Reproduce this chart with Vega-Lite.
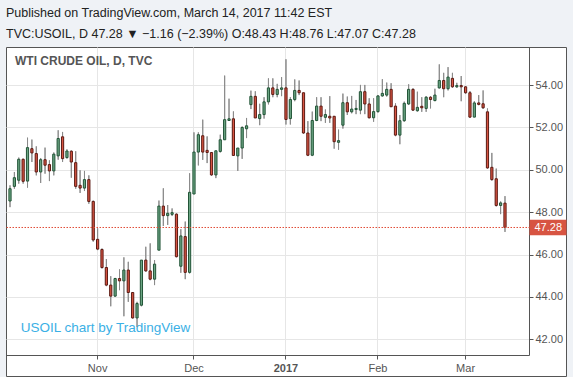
{
  "$schema": "https://vega.github.io/schema/vega-lite/v6.json",
  "width": 560,
  "height": 329,
  "autosize": {"type": "none"},
  "padding": {"left": 6, "top": 47, "right": 7, "bottom": 1},
  "background": "#eff2f6",
  "title": {
    "text": "Published on TradingView.com, March 14, 2017 11:42 EST",
    "subtitle": "TVC:USOIL, D  47.28 ▼ −1.16 (−2.39%)  O:48.43  H:48.76  L:47.07  C:47.28",
    "anchor": "start",
    "frame": "group",
    "offset": 6.5,
    "font": "Liberation Sans",
    "fontSize": 12.5,
    "fontWeight": "normal",
    "color": "#222222",
    "subtitleFont": "Liberation Sans",
    "subtitleFontSize": 12.5,
    "subtitleColor": "#222222",
    "subtitlePadding": 8.5
  },
  "config": {
    "font": "Liberation Sans",
    "view": {"fill": "#ffffff", "stroke": "#555555", "strokeWidth": 1}
  },
  "data": {
    "values": [
      {"date": "2016-10-04", "o": 48.53, "h": 49.27, "l": 48.24, "c": 49.11},
      {"date": "2016-10-05", "o": 49.22, "h": 49.90, "l": 49.11, "c": 49.63},
      {"date": "2016-10-06", "o": 49.51, "h": 50.58, "l": 49.35, "c": 50.50},
      {"date": "2016-10-07", "o": 50.50, "h": 50.53, "l": 49.35, "c": 49.46},
      {"date": "2016-10-10", "o": 49.47, "h": 51.52, "l": 49.16, "c": 51.05},
      {"date": "2016-10-11", "o": 51.00, "h": 51.43, "l": 50.37, "c": 50.80},
      {"date": "2016-10-12", "o": 50.77, "h": 51.11, "l": 49.74, "c": 49.90},
      {"date": "2016-10-13", "o": 49.90, "h": 50.56, "l": 49.38, "c": 50.48},
      {"date": "2016-10-14", "o": 50.48, "h": 51.05, "l": 49.82, "c": 50.22},
      {"date": "2016-10-17", "o": 50.25, "h": 50.45, "l": 49.47, "c": 49.95},
      {"date": "2016-10-18", "o": 49.95, "h": 50.82, "l": 49.74, "c": 50.74},
      {"date": "2016-10-19", "o": 50.66, "h": 51.87, "l": 50.48, "c": 51.48},
      {"date": "2016-10-20", "o": 51.56, "h": 51.79, "l": 50.37, "c": 50.53},
      {"date": "2016-10-21", "o": 50.58, "h": 50.97, "l": 50.53, "c": 50.89},
      {"date": "2016-10-24", "o": 50.88, "h": 50.92, "l": 49.63, "c": 50.37},
      {"date": "2016-10-25", "o": 50.34, "h": 50.88, "l": 49.11, "c": 49.22},
      {"date": "2016-10-26", "o": 49.27, "h": 49.98, "l": 48.91, "c": 49.14},
      {"date": "2016-10-27", "o": 49.14, "h": 49.95, "l": 49.00, "c": 49.54},
      {"date": "2016-10-28", "o": 49.54, "h": 49.74, "l": 48.40, "c": 48.51},
      {"date": "2016-10-31", "o": 48.51, "h": 48.55, "l": 46.61, "c": 46.69},
      {"date": "2016-11-01", "o": 46.72, "h": 47.24, "l": 46.21, "c": 46.26},
      {"date": "2016-11-02", "o": 46.24, "h": 46.29, "l": 45.34, "c": 45.39},
      {"date": "2016-11-03", "o": 45.39, "h": 45.79, "l": 44.51, "c": 44.56},
      {"date": "2016-11-04", "o": 44.56, "h": 44.98, "l": 43.56, "c": 44.04},
      {"date": "2016-11-07", "o": 44.04, "h": 44.90, "l": 44.01, "c": 44.87},
      {"date": "2016-11-08", "o": 44.87, "h": 45.30, "l": 44.32, "c": 44.76},
      {"date": "2016-11-09", "o": 44.76, "h": 45.87, "l": 43.09, "c": 45.27},
      {"date": "2016-11-10", "o": 45.27, "h": 45.66, "l": 43.77, "c": 44.21},
      {"date": "2016-11-11", "o": 44.21, "h": 44.21, "l": 42.98, "c": 43.01},
      {"date": "2016-11-14", "o": 43.01, "h": 43.77, "l": 42.58, "c": 43.69},
      {"date": "2016-11-15", "o": 43.61, "h": 45.74, "l": 43.56, "c": 45.74},
      {"date": "2016-11-16", "o": 45.74, "h": 46.37, "l": 45.19, "c": 45.23},
      {"date": "2016-11-17", "o": 45.23, "h": 46.53, "l": 44.79, "c": 44.84},
      {"date": "2016-11-18", "o": 44.84, "h": 45.74, "l": 44.56, "c": 45.55},
      {"date": "2016-11-21", "o": 46.21, "h": 48.55, "l": 46.21, "c": 48.29},
      {"date": "2016-11-22", "o": 48.29, "h": 49.13, "l": 47.35, "c": 47.84},
      {"date": "2016-11-23", "o": 47.84, "h": 48.34, "l": 47.40, "c": 47.95},
      {"date": "2016-11-24", "o": 47.90, "h": 48.18, "l": 47.82, "c": 47.98},
      {"date": "2016-11-25", "o": 47.91, "h": 47.94, "l": 45.87, "c": 45.90},
      {"date": "2016-11-28", "o": 45.45, "h": 47.20, "l": 45.14, "c": 46.88},
      {"date": "2016-11-29", "o": 46.85, "h": 47.56, "l": 44.84, "c": 45.16},
      {"date": "2016-11-30", "o": 45.16, "h": 49.84, "l": 45.11, "c": 48.94},
      {"date": "2016-12-01", "o": 48.86, "h": 51.77, "l": 48.86, "c": 50.84},
      {"date": "2016-12-02", "o": 50.84, "h": 51.77, "l": 50.21, "c": 51.66},
      {"date": "2016-12-05", "o": 51.61, "h": 52.37, "l": 50.47, "c": 50.84},
      {"date": "2016-12-06", "o": 50.92, "h": 51.58, "l": 50.32, "c": 50.82},
      {"date": "2016-12-07", "o": 50.82, "h": 50.82, "l": 49.72, "c": 49.76},
      {"date": "2016-12-08", "o": 49.76, "h": 50.90, "l": 49.61, "c": 50.90},
      {"date": "2016-12-09", "o": 50.87, "h": 51.66, "l": 50.82, "c": 51.42},
      {"date": "2016-12-12", "o": 51.42, "h": 54.45, "l": 51.42, "c": 52.37},
      {"date": "2016-12-13", "o": 52.33, "h": 53.36, "l": 52.33, "c": 52.41},
      {"date": "2016-12-14", "o": 52.41, "h": 52.76, "l": 50.68, "c": 50.68},
      {"date": "2016-12-15", "o": 50.66, "h": 51.03, "l": 49.95, "c": 51.03},
      {"date": "2016-12-16", "o": 51.03, "h": 52.05, "l": 50.52, "c": 52.00},
      {"date": "2016-12-19", "o": 51.94, "h": 52.45, "l": 51.50, "c": 52.08},
      {"date": "2016-12-20", "o": 53.08, "h": 53.74, "l": 52.87, "c": 53.47},
      {"date": "2016-12-21", "o": 53.47, "h": 53.71, "l": 52.45, "c": 52.45},
      {"date": "2016-12-22", "o": 52.42, "h": 53.12, "l": 52.11, "c": 52.61},
      {"date": "2016-12-23", "o": 52.61, "h": 53.43, "l": 52.42, "c": 53.21},
      {"date": "2016-12-27", "o": 53.21, "h": 54.32, "l": 53.09, "c": 53.87},
      {"date": "2016-12-28", "o": 53.87, "h": 54.32, "l": 53.43, "c": 53.56},
      {"date": "2016-12-29", "o": 53.56, "h": 54.06, "l": 53.43, "c": 53.80},
      {"date": "2016-12-30", "o": 53.80, "h": 54.38, "l": 53.48, "c": 53.87},
      {"date": "2017-01-03", "o": 53.87, "h": 55.22, "l": 52.14, "c": 52.38},
      {"date": "2017-01-04", "o": 52.42, "h": 53.43, "l": 52.14, "c": 53.32},
      {"date": "2017-01-05", "o": 53.32, "h": 54.27, "l": 53.24, "c": 53.75},
      {"date": "2017-01-06", "o": 53.75, "h": 54.22, "l": 53.53, "c": 53.64},
      {"date": "2017-01-09", "o": 53.64, "h": 53.64, "l": 51.70, "c": 51.74},
      {"date": "2017-01-10", "o": 51.74, "h": 52.30, "l": 50.65, "c": 50.69},
      {"date": "2017-01-11", "o": 50.69, "h": 52.75, "l": 50.65, "c": 52.33},
      {"date": "2017-01-12", "o": 52.33, "h": 53.43, "l": 52.30, "c": 53.01},
      {"date": "2017-01-13", "o": 53.01, "h": 53.43, "l": 52.30, "c": 52.53},
      {"date": "2017-01-16", "o": 52.48, "h": 52.85, "l": 52.22, "c": 52.61},
      {"date": "2017-01-17", "o": 52.53, "h": 53.48, "l": 52.22, "c": 52.45},
      {"date": "2017-01-18", "o": 52.53, "h": 52.53, "l": 51.00, "c": 51.33},
      {"date": "2017-01-19", "o": 51.30, "h": 51.90, "l": 50.95, "c": 51.38},
      {"date": "2017-01-20", "o": 52.11, "h": 53.60, "l": 51.95, "c": 53.17},
      {"date": "2017-01-23", "o": 53.17, "h": 53.46, "l": 52.59, "c": 52.74},
      {"date": "2017-01-24", "o": 52.74, "h": 53.49, "l": 52.67, "c": 52.87},
      {"date": "2017-01-25", "o": 52.85, "h": 53.30, "l": 52.63, "c": 52.90},
      {"date": "2017-01-26", "o": 52.82, "h": 54.01, "l": 52.63, "c": 53.69},
      {"date": "2017-01-27", "o": 53.69, "h": 54.01, "l": 52.63, "c": 53.11},
      {"date": "2017-01-30", "o": 53.11, "h": 53.38, "l": 52.43, "c": 52.46},
      {"date": "2017-01-31", "o": 52.46, "h": 53.38, "l": 52.27, "c": 52.75},
      {"date": "2017-02-01", "o": 52.75, "h": 53.53, "l": 52.70, "c": 53.49},
      {"date": "2017-02-02", "o": 53.49, "h": 54.28, "l": 53.46, "c": 53.61},
      {"date": "2017-02-03", "o": 53.53, "h": 54.12, "l": 53.46, "c": 53.80},
      {"date": "2017-02-06", "o": 53.80, "h": 54.09, "l": 52.98, "c": 52.98},
      {"date": "2017-02-07", "o": 53.01, "h": 53.14, "l": 51.59, "c": 51.64},
      {"date": "2017-02-08", "o": 51.64, "h": 52.59, "l": 51.21, "c": 52.32},
      {"date": "2017-02-09", "o": 52.32, "h": 53.22, "l": 52.27, "c": 53.14},
      {"date": "2017-02-10", "o": 53.11, "h": 54.04, "l": 53.06, "c": 53.80},
      {"date": "2017-02-13", "o": 53.80, "h": 53.85, "l": 52.78, "c": 52.82},
      {"date": "2017-02-14", "o": 52.79, "h": 53.69, "l": 52.75, "c": 52.95},
      {"date": "2017-02-15", "o": 53.00, "h": 53.43, "l": 52.74, "c": 52.93},
      {"date": "2017-02-16", "o": 52.90, "h": 53.48, "l": 52.74, "c": 53.43},
      {"date": "2017-02-17", "o": 53.43, "h": 53.48, "l": 52.90, "c": 53.32},
      {"date": "2017-02-20", "o": 53.27, "h": 53.83, "l": 53.24, "c": 53.53},
      {"date": "2017-02-21", "o": 53.87, "h": 54.98, "l": 53.84, "c": 54.22},
      {"date": "2017-02-22", "o": 54.22, "h": 54.58, "l": 53.43, "c": 53.83},
      {"date": "2017-02-23", "o": 53.83, "h": 54.85, "l": 53.75, "c": 54.38},
      {"date": "2017-02-24", "o": 54.32, "h": 54.58, "l": 53.87, "c": 53.92},
      {"date": "2017-02-27", "o": 53.92, "h": 54.11, "l": 53.87, "c": 53.98},
      {"date": "2017-02-28", "o": 53.98, "h": 54.43, "l": 53.24, "c": 53.92},
      {"date": "2017-03-01", "o": 53.92, "h": 53.95, "l": 53.59, "c": 53.64},
      {"date": "2017-03-02", "o": 53.64, "h": 53.72, "l": 52.45, "c": 52.49},
      {"date": "2017-03-03", "o": 52.49, "h": 53.24, "l": 52.49, "c": 53.16},
      {"date": "2017-03-06", "o": 53.16, "h": 53.53, "l": 53.05, "c": 53.09},
      {"date": "2017-03-07", "o": 53.12, "h": 53.75, "l": 52.88, "c": 52.93},
      {"date": "2017-03-08", "o": 52.74, "h": 52.90, "l": 50.06, "c": 50.09},
      {"date": "2017-03-09", "o": 50.12, "h": 50.80, "l": 49.49, "c": 49.54},
      {"date": "2017-03-10", "o": 49.58, "h": 50.06, "l": 48.27, "c": 48.32},
      {"date": "2017-03-13", "o": 48.32, "h": 48.51, "l": 47.91, "c": 48.44},
      {"date": "2017-03-14", "o": 48.43, "h": 48.76, "l": 47.07, "c": 47.28}
    ]
  },
  "layer": [
    {
      "mark": {"type": "rule", "color": "#8a8a8a", "strokeWidth": 1},
      "encoding": {
        "x": {
          "field": "date", "type": "ordinal",
          "scale": {"type": "band", "range": [1.81, 501.19], "paddingInner": 0, "paddingOuter": 0},
          "axis": {"orient": "top", "values": ["2016-11-01", "2016-12-01", "2017-01-03", "2017-02-01", "2017-03-01"], "grid": true, "gridColor": "#e6e6e6", "labels": false, "ticks": false, "domain": false, "title": null, "bandPosition": 0.5}
        },
        "y": {
          "field": "l", "type": "quantitative",
          "scale": {"domain": [41.26, 55.80], "range": [308, 0], "nice": false, "zero": false},
          "axis": {
            "orient": "left", "values": [41.26, 42, 44, 46, 48, 50, 52, 54], "grid": false, "labels": false, "domain": false, "title": null,
            "ticks": true, "tickSize": -523,
            "tickColor": {"condition": {"test": "datum.value < 42", "value": "#555555"}, "value": "#e6e6e6"}
          }
        },
        "y2": {"field": "h"}
      }
    },
    {
      "data": {"values": [{}]},
      "mark": {"type": "text", "text": "WTI CRUDE OIL, D, TVC", "align": "left", "baseline": "middle", "fontWeight": "bold", "fontSize": 12, "color": "#555555", "dx": 0.6},
      "encoding": {
        "x": {"datum": "2016-10-05", "type": "ordinal", "scale": {"type": "band", "range": [1.81, 501.19], "paddingInner": 0, "paddingOuter": 0}, "axis": null},
        "y": {"datum": 55.157, "type": "quantitative", "axis": null}
      }
    },
    {
      "data": {"values": [{}]},
      "mark": {"type": "text", "text": "USOIL chart by TradingView", "align": "left", "baseline": "middle", "fontSize": 13.5, "color": "#3bb0e5", "dx": 2},
      "encoding": {
        "x": {"datum": "2016-10-06", "type": "ordinal", "scale": {"type": "band", "range": [1.81, 501.19], "paddingInner": 0, "paddingOuter": 0}, "axis": null},
        "y": {"datum": 42.53, "type": "quantitative", "axis": null}
      }
    },
    {
      "mark": {"type": "rule", "color": "#8a8a8a", "strokeWidth": 1},
      "encoding": {
        "x": {"field": "date", "type": "ordinal", "axis": null},
        "y": {"field": "l", "type": "quantitative", "axis": null},
        "y2": {"field": "h"}
      }
    },
    {
      "mark": {"type": "bar", "width": 2.2, "strokeWidth": 1},
      "encoding": {
        "x": {
          "field": "date", "type": "ordinal",
          "scale": {"type": "band", "range": [1.81, 501.19], "paddingInner": 0, "paddingOuter": 0},
          "axis": {
            "orient": "bottom", "offset": -21, "title": null, "grid": false, "domain": false, "bandPosition": 0.5,
            "values": ["2016-11-01", "2016-12-01", "2017-01-03", "2017-02-01", "2017-03-01"],
            "labelExpr": "datum.value == '2016-11-01' ? 'Nov' : datum.value == '2016-12-01' ? 'Dec' : datum.value == '2017-01-03' ? '2017' : datum.value == '2017-02-01' ? 'Feb' : 'Mar'",
            "labelFontWeight": {"condition": {"test": "datum.value == '2017-01-03'", "value": "bold"}, "value": "normal"},
            "labelAngle": 0, "labelFontSize": 11, "labelColor": "#555555", "labelPadding": 3,
            "tickSize": 4, "tickColor": "#555555"
          }
        },
        "y": {
          "field": "o", "type": "quantitative",
          "axis": {
            "orient": "right", "offset": -37, "title": null, "grid": false,
            "values": [42, 44, 46, 48, 50, 52, 54], "format": ".2f",
            "labelFontSize": 11, "labelColor": "#555555", "labelPadding": 2,
            "tickSize": 4, "tickColor": "#555555", "domainColor": "#555555"
          }
        },
        "y2": {"field": "c"},
        "fill": {"condition": {"test": "datum.c >= datum.o", "value": "#6ba583"}, "value": "#d75442"},
        "stroke": {"condition": {"test": "datum.c >= datum.o", "value": "#225437"}, "value": "#5b1a13"}
      }
    },
    {
      "transform": [{"filter": "datum.date == '2017-03-14'"}],
      "mark": {"type": "rule", "color": "#e04a35", "strokeDash": [1.5, 1.5], "strokeWidth": 1},
      "encoding": {
        "y": {
          "field": "c", "type": "quantitative",
          "axis": {
            "orient": "right", "offset": -37, "title": null, "grid": false, "domain": false,
            "values": [47.28], "format": ".2f",
            "tickSize": 37, "tickWidth": 15.5, "tickColor": "#d75442",
            "labelColor": "#ffffff", "labelFontSize": 11, "labelPadding": -32, "zindex": 1
          }
        }
      }
    }
  ],
  "resolve": {"axis": {"x": "independent", "y": "independent"}}
}
